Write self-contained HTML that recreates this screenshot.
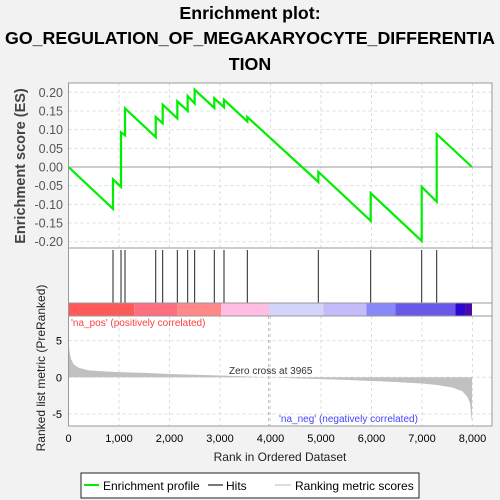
<!DOCTYPE html>
<html><head><meta charset="utf-8"><style>
body{margin:0;background:#f2f2f2;font-family:"Liberation Sans",sans-serif;}
svg{display:block}
</style></head><body>
<svg id="c" width="500" height="500" xmlns="http://www.w3.org/2000/svg">
<text x="250" y="19" text-anchor="middle" font-size="17.8" font-weight="bold">Enrichment plot:</text>
<text x="250" y="44" text-anchor="middle" font-size="17.8" font-weight="bold">GO_REGULATION_OF_MEGAKARYOCYTE_DIFFERENTIA</text>
<text x="250" y="70" text-anchor="middle" font-size="17.8" font-weight="bold">TION</text>
<g id="g"></g>
</svg>
<script>
const hitRanks=[881,1040,1119,1727,1865,2155,2360,2498,2887,3079,3541,4947,5984,6994,7291];
const esBefore=[-0.112,-0.053,0.085,0.080,0.117,0.130,0.150,0.170,0.158,0.160,0.122,-0.040,-0.144,-0.198,-0.093];
const esAfter=[-0.033,0.093,0.157,0.134,0.167,0.176,0.190,0.207,0.184,0.180,0.134,-0.013,-0.070,-0.053,0.088];
const totalRanks=7990;
const metricRanks=[0,20,50,100,200,400,700,1000,1500,2000,2500,3000,3500,3965,4500,5000,5500,6000,6500,7000,7300,7600,7800,7900,7950,7980,7990];
const metricVals=[5.5,3.5,2.5,1.8,1.3,0.95,0.8,0.7,0.6,0.45,0.35,0.25,0.12,0,-0.15,-0.25,-0.35,-0.5,-0.65,-0.85,-1.05,-1.4,-1.9,-2.7,-3.5,-5.5,-6];
const xTicks=[0,1000,2000,3000,4000,5000,6000,7000,8000];
const esTicks=[0.2,0.15,0.1,0.05,0,-0.05,-0.1,-0.15,-0.2];
const mTicks=[5,0,-5];
const barStarts=[0,1300,2150,3020,3970,5050,5900,6470,7660,7860];
const barEnds=[1300,2150,3020,3970,5050,5900,6470,7660,7860,7990];
const barColors=["#ff5a5a","#ff6e7e","#ff8888","#ffbde4","#d4d4fa","#c4bcfa","#8888f8","#6a58e8","#2a08d0","#4a0aa8"];

const L=68.5,R=492,T=83,B1=248,B2=303,B3=316,B4=426;
const x=r=>68.5+r*0.0505;
const yE=v=>167-v*373.5;
const yM=v=>377.3-v*7.33;
const g=document.getElementById('g');
const NS="http://www.w3.org/2000/svg";
function mk(t,a,txt){const e=document.createElementNS(NS,t);for(const k in a)e.setAttribute(k,a[k]);if(txt!==undefined)e.textContent=txt;g.appendChild(e);return e;}
let e=mk('rect',{x:L,y:T,width:R-L,height:B4-T,fill:'#fff'});


xTicks.forEach(t=>{
 let l=mk('line',{x1:x(t),x2:x(t),y1:T,y2:B1,stroke:'#ddd','stroke-dasharray':'3,3'});
 
 
 let l2=mk('line',{x1:x(t),x2:x(t),y1:B3,y2:B4,stroke:'#ddd','stroke-dasharray':'3,3'});
 
 
 let tx=mk('text',{x:x(t),y:442,'text-anchor':'middle','font-size':11},t.toLocaleString('en-US'));
 
 
});
esTicks.forEach(t=>{
 let l=mk('line',{x1:L,x2:R,y1:yE(t),y2:yE(t),stroke:'#ddd','stroke-dasharray':'3,3'});
 
 
 let tx=mk('text',{x:63,y:yE(t)+4.5,'text-anchor':'end','font-size':12.5,fill:'#555'},t.toFixed(2));
 
 
});
mTicks.forEach(t=>{
 let l=mk('line',{x1:L,x2:R,y1:yM(t),y2:yM(t),stroke:'#ddd','stroke-dasharray':'3,3'});
 
 
 let tx=mk('text',{x:62,y:yM(t)+4,'text-anchor':'end','font-size':11},String(t));
 
 
});
e=mk('line',{x1:L,x2:R,y1:yE(0),y2:yE(0),stroke:'#999','stroke-width':1});


let pts=[[0,0]];
hitRanks.forEach((r,i)=>{pts.push([r,esBefore[i]]);pts.push([r,esAfter[i]]);});
pts.push([totalRanks,0]);
e=mk('polyline',{points:pts.map(p=>x(p[0])+','+yE(p[1])).join(' '),fill:'none',stroke:'#00ee00','stroke-width':2.2});


hitRanks.forEach(r=>{
 let l=mk('line',{x1:x(r),x2:x(r),y1:B1+2,y2:B2,stroke:'#222','stroke-width':1});
 
 
});
barStarts.forEach((s,i)=>{
 let r=mk('rect',{x:x(s),y:B2,width:x(barEnds[i])-x(s),height:B3-B2,fill:barColors[i]});
 
 
});
let d='M'+x(0)+','+yM(0);
metricRanks.forEach((r,i)=>{d+=' L'+x(r)+','+yM(metricVals[i]);});
d+=' L'+x(totalRanks)+','+yM(0)+' Z';
e=mk('path',{d:d,fill:'#c0c0c0',stroke:'none'});


e=mk('line',{x1:x(3965),x2:x(3965),y1:B3,y2:B4,stroke:'#aaa','stroke-dasharray':'3,3'});


e=mk('text',{x:229,y:374,'font-size':10,fill:'#333'},'Zero cross at 3965');


e=mk('text',{x:71,y:326,'font-size':10,fill:'#ff4040'},"'na_pos' (positively correlated)");


e=mk('text',{x:279,y:422,'font-size':10,fill:'#4444ff'},"'na_neg' (negatively correlated)");


[[T,B1],[B1,B2],[B2,B3],[B3,B4]].forEach(p=>{
 let r=mk('rect',{x:L,y:p[0],width:R-L,height:p[1]-p[0],fill:'none',stroke:'#999'});
 
 
});
e=mk('text',{x:0,y:0,'font-size':14.5,'font-weight':'bold',fill:'#444','text-anchor':'middle',transform:'translate(25,166) rotate(-90)'},'Enrichment score (ES)');


e=mk('text',{x:0,y:0,'font-size':12,fill:'#222','text-anchor':'middle',transform:'translate(45,368) rotate(-90)'},'Ranked list metric (PreRanked)');


e=mk('text',{x:280,y:461,'font-size':12,'text-anchor':'middle',fill:'#222'},'Rank in Ordered Dataset');


e=mk('rect',{x:81,y:473,width:338,height:25,fill:'#fff',stroke:'#222'});


e=mk('line',{x1:84,x2:99,y1:485,y2:485,stroke:'#00ee00','stroke-width':2});


e=mk('text',{x:103,y:490,'font-size':12},'Enrichment profile');


e=mk('line',{x1:208,x2:223,y1:485,y2:485,stroke:'#777','stroke-width':2});


e=mk('text',{x:226,y:490,'font-size':12},'Hits');


e=mk('line',{x1:275,x2:291,y1:485,y2:485,stroke:'#ddd','stroke-width':2});


e=mk('text',{x:295,y:490,'font-size':12},'Ranking metric scores');


</script>
</body></html>
